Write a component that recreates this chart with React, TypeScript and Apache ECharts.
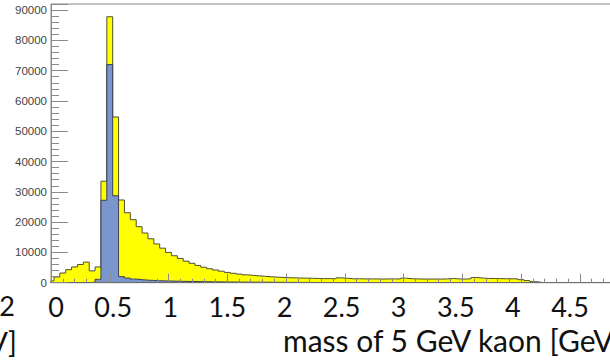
import React, { useEffect, useRef } from "react";
import * as echarts from "echarts";

// Histogram binning (GeV); bins are centred on multiples of binWidth.
const binWidth = 0.05;

// All candidates per bin (yellow).
const allCounts = [
  600, 1900, 3200, 4300, 5200, 6000, 6800, 3900, 5200, 33500,
  87800, 54700, 27300, 23100, 20800, 18500, 16400, 14500, 12800, 11400,
  10000, 8900, 8000, 7100, 6400, 5700, 5100, 4600, 4200, 3800,
  3400, 3100, 2850, 2600, 2400, 2250, 2100, 1950, 1850, 1750,
  1650, 1600, 1550, 1500, 1450, 1400, 1350, 1350, 1300, 1600,
  1450, 1300, 1300, 1250, 1250, 1250, 1200, 1250, 1250, 1250,
  1500, 1300, 1250, 1200, 1200, 1200, 1200, 1250, 1400, 1250,
  1200, 1300, 1700, 1550, 1400, 1400, 1350, 1300, 1300, 1250,
  1000, 700, 350, 150,
];

// Matched kaons per bin (blue).
const kaonCounts = [
  0, 0, 0, 0, 0, 0, 0, 150, 1100, 27200,
  72000, 28700, 2000, 1500, 1200, 1000, 850, 750, 650, 600,
  550, 500, 450, 420, 390, 360, 330, 300, 280, 260,
  240, 220, 200, 190, 180, 170, 160, 150, 140, 130,
  120, 110, 100, 90, 80, 70, 60, 50, 40, 30,
];

const massTickValues = [0, 0.5, 1, 1.5, 2, 2.5, 3, 3.5, 4, 4.5];
const massTickLabels = ["0", "0.5", "1", "1.5", "2", "2.5", "3", "3.5", "4", "4.5"];
const countTickValues = [0, 10000, 20000, 30000, 40000, 50000, 60000, 70000, 80000, 90000];
const countTickLabels = ["0", "10000", "20000", "30000", "40000", "50000", "60000", "70000", "80000", "90000"];

const axisTitle = "mass of 5 GeV kaon [GeV]";
const strayLabel = "2";
const strayTitleTail = "V]";

// Turn per-bin counts into step outline points (left edges, then closing edge).
function stepPoints(counts: number[]): number[][] {
  const pts: number[][] = [[0, 0]];
  counts.forEach((c, k) => {
    pts.push([Math.max(0, (k - 0.5) * binWidth), c]);
  });
  const last = counts.length - 1;
  const hi = (last + 0.5) * binWidth;
  pts.push([hi, counts[last]]);
  pts.push([hi, 0]);
  return pts;
}

function labelFor(values: number[], labels: string[]) {
  return (v: number) => {
    const i = values.findIndex((t) => Math.abs(t - v) < 1e-6);
    return i >= 0 ? labels[i] : "";
  };
}

const bigFont = "Lato, 'Open Sans', sans-serif";

export default function App() {
  const ref = useRef<HTMLDivElement>(null);

  useEffect(() => {
    if (!ref.current) return;
    const chart = echarts.init(ref.current, undefined, { renderer: "svg" });
    const tickColor = "#8a8a8a";

    chart.setOption({
      animation: false,
      backgroundColor: "#ffffff",
      grid: [
        {
          left: 51,
          top: 4,
          width: 587.5,
          height: 278.7,
          show: true,
          borderColor: "#8a8a8a",
          borderWidth: 1,
          backgroundColor: "transparent",
          outerBoundsMode: "none",
        },
        {
          left: 56.1,
          top: 0,
          width: 571,
          height: 291,
          show: false,
          outerBoundsMode: "none",
        },
      ],
      xAxis: [
        {
          type: "value",
          gridIndex: 0,
          min: 0,
          max: 5,
          interval: 0.5,
          z: 10,
          axisLine: { show: true, onZero: false, lineStyle: { color: "#6a6a6a", width: 1 } },
          axisTick: { show: true, inside: true, length: 9, lineStyle: { color: tickColor } },
          minorTick: { show: true, splitNumber: 5, length: 4, lineStyle: { color: tickColor } },
          axisLabel: { show: false },
          splitLine: { show: false },
        },
        {
          type: "value",
          gridIndex: 1,
          min: 0,
          max: 5,
          interval: 0.5,
          position: "bottom",
          axisLine: { show: false },
          axisTick: { show: false },
          splitLine: { show: false },
          axisLabel: {
            show: true,
            margin: 2,
            fontSize: 27,
            fontFamily: bigFont,
            color: "#111111",
            showMaxLabel: false,
            formatter: labelFor(massTickValues, massTickLabels),
          },
        },
      ],
      yAxis: [
        {
          type: "value",
          gridIndex: 0,
          min: 0,
          max: 92000,
          interval: 10000,
          z: 10,
          axisLine: { show: true, onZero: false, lineStyle: { color: "#8a8a8a", width: 1 } },
          axisTick: { show: true, inside: true, length: 17, lineStyle: { color: tickColor } },
          minorTick: { show: true, splitNumber: 5, length: 8, lineStyle: { color: tickColor } },
          splitLine: { show: false },
          axisLabel: {
            show: true,
            margin: 4,
            fontSize: 11.5,
            fontFamily: "'Liberation Sans', Arial, sans-serif",
            color: "#444444",
            showMaxLabel: false,
            formatter: labelFor(countTickValues, countTickLabels),
          },
        },
        { type: "value", gridIndex: 1, min: 0, max: 1, show: false },
      ],
      series: [
        {
          name: "all",
          type: "line",
          xAxisIndex: 0,
          yAxisIndex: 0,
          step: "end",
          symbol: "none",
          showSymbol: false,
          data: stepPoints(allCounts),
          lineStyle: { color: "#4f4f33", width: 1 },
          areaStyle: { color: "#ffff00", opacity: 1 },
          z: 2,
        },
        {
          name: "kaon",
          type: "line",
          xAxisIndex: 0,
          yAxisIndex: 0,
          step: "end",
          symbol: "none",
          showSymbol: false,
          data: stepPoints(kaonCounts),
          lineStyle: { color: "#3a3f55", width: 1 },
          areaStyle: { color: "#7a96cc", opacity: 1 },
          z: 3,
        },
      ],
      graphic: [
        {
          type: "text",
          x: 7,
          y: 305,
          style: {
            text: strayLabel,
            font: `27px ${bigFont}`,
            fill: "#111111",
            textAlign: "center",
            textVerticalAlign: "middle",
            align: "center",
            verticalAlign: "middle",
          },
        },
        {
          type: "text",
          x: 17,
          y: 341,
          style: {
            text: strayTitleTail,
            font: `29px ${bigFont}`,
            fill: "#111111",
            textAlign: "right",
            textVerticalAlign: "middle",
            align: "right",
            verticalAlign: "middle",
          },
        },
        {
          type: "text",
          x: 283,
          y: 340,
          style: {
            text: axisTitle,
            font: `30px ${bigFont}`,
            fill: "#111111",
            textAlign: "left",
            textVerticalAlign: "middle",
            align: "left",
            verticalAlign: "middle",
          },
        },
      ],
    });

    return () => chart.dispose();
  }, []);

  return (
    <div
      style={{
        position: "fixed",
        left: 0,
        top: 0,
        width: 610,
        height: 361,
        overflow: "hidden",
        background: "#ffffff",
      }}
    >
      <div ref={ref} style={{ width: 660, height: 361 }} />
    </div>
  );
}
